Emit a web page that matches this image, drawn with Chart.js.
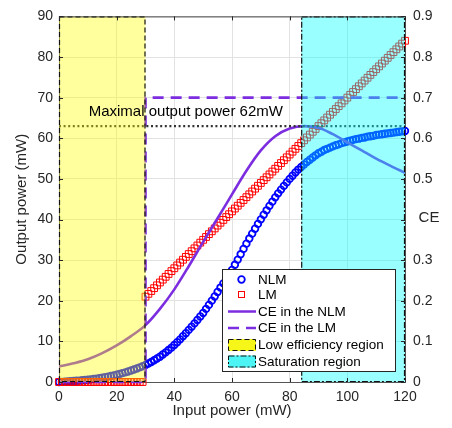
<!DOCTYPE html>
<html>
<head>
<meta charset="utf-8">
<script src="https://cdn.jsdelivr.net/npm/chart.js@4.4.0/dist/chart.umd.min.js"></script>
<style>
  html, body { margin: 0; padding: 0; background: #fff; }
</style>
</head>
<body>
<canvas id="c" width="452" height="428"></canvas>
<script>
// input power grid, 1 mW step
const inputPower = Array.from({ length: 121 }, (_, i) => i);

// output power of the non-linear model (mW)
const nlmPower = [
  0.00, 0.04, 0.09, 0.13, 0.18, 0.24, 0.29, 0.35, 0.42, 0.49,
  0.56, 0.65, 0.74, 0.84, 0.95, 1.07, 1.18, 1.33, 1.48, 1.63,
  1.80, 1.97, 2.18, 2.37, 2.59, 2.83, 3.07, 3.32, 3.61, 3.89,
  4.20, 4.56, 4.93, 5.35, 5.78, 6.23, 6.77, 7.29, 7.87, 8.46,
  9.12, 9.80, 10.50, 11.27, 12.01, 12.83, 13.62, 14.43, 15.26, 16.12,
  17.00, 18.00, 18.98, 20.03, 21.06, 22.17, 23.24, 24.28, 25.40, 26.49,
  27.60, 28.85, 30.13, 31.44, 32.77, 34.06, 35.31, 36.52, 37.74, 38.92,
  40.04, 41.18, 42.26, 43.36, 44.40, 45.45, 46.44, 47.36, 48.28, 49.14,
  50.00, 50.79, 51.58, 52.29, 52.92, 53.55, 54.18, 54.72, 55.26, 55.80,
  56.30, 56.70, 57.10, 57.40, 57.70, 58.00, 58.30, 58.50, 58.80, 59.00,
  59.20, 59.40, 59.60, 59.80, 59.90, 60.10, 60.20, 60.40, 60.50, 60.60,
  60.80, 60.90, 61.00, 61.10, 61.20, 61.30, 61.40, 61.50, 61.60, 61.70,
  61.80
];

// output power of the linear model (mW)
const lmPower = [
  0, 0, 0, 0, 0, 0, 0, 0, 0, 0,
  0, 0, 0, 0, 0, 0, 0, 0, 0, 0,
  0, 0, 0, 0, 0, 0, 0, 0, 0, 0,
  21.0, 21.7, 22.4, 23.1, 23.8, 24.5, 25.2, 25.9, 26.6, 27.3,
  28.0, 28.7, 29.4, 30.1, 30.8, 31.5, 32.2, 32.9, 33.6, 34.3,
  35.0, 35.7, 36.4, 37.1, 37.8, 38.5, 39.2, 39.9, 40.6, 41.3,
  42.0, 42.7, 43.4, 44.1, 44.8, 45.5, 46.2, 46.9, 47.6, 48.3,
  49.0, 49.7, 50.4, 51.1, 51.8, 52.5, 53.2, 53.9, 54.6, 55.3,
  56.0, 56.7, 57.4, 58.1, 58.8, 59.5, 60.2, 60.9, 61.6, 62.3,
  63.0, 63.7, 64.4, 65.1, 65.8, 66.5, 67.2, 67.9, 68.6, 69.3,
  70.0, 70.7, 71.4, 72.1, 72.8, 73.5, 74.2, 74.9, 75.6, 76.3,
  77.0, 77.7, 78.4, 79.1, 79.8, 80.5, 81.2, 81.9, 82.6, 83.3,
  84.0
];

// conversion efficiency curves (right axis)
const ceNlmX = [0, 5, 10, 15, 20, 25, 30, 35, 40, 45, 50, 55, 60, 65, 70, 75, 80, 85, 90, 95, 100, 105, 110, 115, 120];
const ceNlm = [0.038, 0.046, 0.056, 0.071, 0.090, 0.113, 0.140, 0.180, 0.228, 0.285, 0.345, 0.403, 0.462, 0.520, 0.570, 0.605, 0.624, 0.630, 0.626, 0.610, 0.590, 0.570, 0.550, 0.532, 0.515];
const ceLmX = [0, 30, 30, 120];
const ceLm = [0, 0, 0.7, 0.7];

// maximal output power marker line
const maxLineX = [0, 120];
const maxLineY = [63, 63];
const maxLabel = 'Maximal output power 62mW';

// shaded regions (input power, mW)
const lowEffRegion = [0, 30];
const satRegion = [84, 120];

const xTicks = [0, 20, 40, 60, 80, 100, 120];
const leftTicks = [0, 10, 20, 30, 40, 50, 60, 70, 80, 90];
const rightTicks = [0, 0.1, 0.2, 0.3, 0.4, 0.5, 0.6, 0.7, 0.8, 0.9];

const legendItems = ['NLM', 'LM', 'CE in the NLM', 'CE in the LM', 'Low efficiency region', 'Saturation region'];

const FONT = "'Liberation Sans', Arial, sans-serif";
const PURPLE = '#7d2de0';
const YELLOW = 'rgba(255,255,0,0.38)';
const CYAN = 'rgba(0,255,255,0.4)';

const pts = (xs, ys) => ys.map((y, i) => ({ x: xs[i], y: y }));

const regionsPlugin = {
  id: 'regions',
  afterDatasetsDraw(chart) {
    const { ctx, scales: { x, y } } = chart;
    const top = y.getPixelForValue(90), bot = y.getPixelForValue(0);
    function region(r, fill, dash) {
      const x0 = x.getPixelForValue(r[0]), x1 = x.getPixelForValue(r[1]);
      ctx.save();
      ctx.fillStyle = fill;
      ctx.fillRect(x0, top, x1 - x0, bot - top);
      ctx.setLineDash(dash);
      ctx.strokeStyle = '#111';
      ctx.lineWidth = 1.2;
      ctx.strokeRect(x0 + 0.5, top + 0.5, x1 - x0 - 1, bot - top - 1);
      ctx.restore();
    }
    region(lowEffRegion, YELLOW, [5, 3]);
    region(satRegion, CYAN, [6, 2, 2, 2]);
  },
  afterDraw(chart) {
    const { ctx, chartArea: a, scales: { x, y, y2 } } = chart;
    ctx.save();
    // box
    ctx.strokeStyle = '#444';
    ctx.lineWidth = 1;
    ctx.beginPath();
    ctx.moveTo(a.left, a.top + 0.5); ctx.lineTo(a.right, a.top + 0.5);
    ctx.stroke();
    // inward ticks
    ctx.strokeStyle = '#262626';
    ctx.beginPath();
    xTicks.forEach(v => {
      const px = Math.round(x.getPixelForValue(v)) + 0.5;
      ctx.moveTo(px, a.bottom); ctx.lineTo(px, a.bottom - 4);
      ctx.moveTo(px, a.top); ctx.lineTo(px, a.top + 4);
    });
    leftTicks.forEach(v => {
      const py = Math.round(y.getPixelForValue(v)) + 0.5;
      ctx.moveTo(a.left, py); ctx.lineTo(a.left + 4, py);
    });
    rightTicks.forEach(v => {
      const py = Math.round(y2.getPixelForValue(v)) + 0.5;
      ctx.moveTo(a.right, py); ctx.lineTo(a.right - 4, py);
    });
    ctx.stroke();

    // annotation text
    ctx.fillStyle = '#000';
    ctx.font = '15px ' + FONT;
    ctx.textBaseline = 'middle';
    ctx.textAlign = 'left';
    ctx.fillText(maxLabel, x.getPixelForValue(10.3), y.getPixelForValue(66.5));

    // right axis title (sits where the 0.4 label would be)
    ctx.fillStyle = '#262626';
    ctx.font = '15px ' + FONT;
    ctx.textAlign = 'center';
    ctx.fillText('CE', 429, y2.getPixelForValue(0.405));

    // legend
    const lx = 222, ly = 269, lw = 173, lh = 102;
    ctx.fillStyle = '#fff';
    ctx.fillRect(lx, ly, lw, lh);
    ctx.strokeStyle = '#262626';
    ctx.lineWidth = 1;
    ctx.setLineDash([]);
    ctx.strokeRect(lx + 0.5, ly + 0.5, lw, lh);
    const rows = [279.5, 294.5, 311.5, 328, 345, 361.5];
    const sx0 = 228, sx1 = 256, sxc = 241.5;
    ctx.font = '13.5px ' + FONT;
    ctx.textAlign = 'left';
    legendItems.forEach((label, i) => {
      const ry = rows[i];
      ctx.save();
      if (i === 0) {
        ctx.strokeStyle = '#0000ff'; ctx.lineWidth = 1.8;
        ctx.beginPath(); ctx.arc(sxc, ry, 3.3, 0, Math.PI * 2); ctx.stroke();
      } else if (i === 1) {
        ctx.strokeStyle = '#ff0000'; ctx.lineWidth = 1;
        ctx.strokeRect(sxc - 3, ry - 3, 6, 6);
      } else if (i === 2 || i === 3) {
        ctx.strokeStyle = PURPLE; ctx.lineWidth = 2.5;
        if (i === 3) ctx.setLineDash([11, 7]);
        ctx.beginPath(); ctx.moveTo(sx0, ry); ctx.lineTo(sx1, ry); ctx.stroke();
      } else {
        ctx.fillStyle = i === 4 ? 'rgba(245,245,0,0.9)' : 'rgba(0,240,240,0.7)';
        ctx.fillRect(sx0, ry - 6, sx1 - sx0, 12);
        ctx.strokeStyle = '#111'; ctx.lineWidth = 1;
        ctx.setLineDash(i === 4 ? [5, 3] : [6, 2, 2, 2]);
        ctx.strokeRect(sx0 + 0.5, ry - 5.5, sx1 - sx0 - 1, 11);
      }
      ctx.restore();
      ctx.fillStyle = '#000';
      ctx.fillText(label, 258, ry + 0.5);
    });
    ctx.restore();
  }
};

new Chart(document.getElementById('c'), {
  type: 'line',
  data: {
    datasets: [
      {
        label: 'NLM',
        data: pts(inputPower, nlmPower),
        showLine: false,
        pointStyle: 'circle',
        pointRadius: 3.3,
        pointBorderWidth: 1.8,
        pointBorderColor: '#0000ff',
        pointBackgroundColor: 'rgba(0,0,0,0)',
        yAxisID: 'y',
        order: 4,
        clip: 8
      },
      {
        label: 'LM',
        data: pts(inputPower, lmPower),
        showLine: false,
        pointStyle: 'rect',
        pointRadius: 4.8,
        pointBorderWidth: 1,
        pointBorderColor: '#ff0000',
        pointBackgroundColor: 'rgba(0,0,0,0)',
        yAxisID: 'y',
        order: 3,
        clip: 8
      },
      {
        label: 'CE in the NLM',
        data: pts(ceNlmX, ceNlm),
        borderColor: PURPLE,
        borderWidth: 2.6,
        pointRadius: 0,
        cubicInterpolationMode: 'monotone',
        yAxisID: 'y2',
        order: 2
      },
      {
        label: 'CE in the LM',
        data: pts(ceLmX, ceLm),
        borderColor: PURPLE,
        borderWidth: 2.6,
        borderDash: [11, 7],
        pointRadius: 0,
        tension: 0,
        yAxisID: 'y2',
        order: 1,
        clip: 4
      },
      {
        label: 'max',
        data: pts(maxLineX, maxLineY),
        borderColor: '#333',
        borderWidth: 2.4,
        borderDash: [2, 2.6],
        pointRadius: 0,
        yAxisID: 'y',
        order: 0
      }
    ]
  },
  options: {
    responsive: false,
    animation: false,
    devicePixelRatio: 1,
    layout: { padding: { top: 12, left: 0, right: 0, bottom: 0 } },
    plugins: { legend: { display: false }, tooltip: { enabled: false } },
    scales: {
      x: {
        type: 'linear', min: 0, max: 120,
        afterBuildTicks: s => { s.ticks = xTicks.map(v => ({ value: v })); },
        afterFit: s => { s.height = 46; },
        grid: { color: '#e2e2e2', drawTicks: false },
        border: { display: true, color: '#555' },
        ticks: { color: '#262626', font: { family: FONT, size: 14 }, padding: 7, maxRotation: 0 },
        title: { display: true, text: 'Input power (mW)', color: '#262626', font: { family: FONT, size: 15 }, padding: { top: 0, bottom: 8 } }
      },
      y: {
        type: 'linear', position: 'left', min: 0, max: 90,
        afterBuildTicks: s => { s.ticks = leftTicks.map(v => ({ value: v })); },
        afterFit: s => { s.width = 59; },
        grid: { color: '#e2e2e2', drawTicks: false },
        border: { display: true, color: '#555' },
        ticks: { color: '#262626', font: { family: FONT, size: 14 }, padding: 6 },
        title: { display: true, text: 'Output power (mW)', color: '#262626', font: { family: FONT, size: 15 }, padding: { top: 13, bottom: 0 } }
      },
      y2: {
        type: 'linear', position: 'right', min: 0, max: 0.9,
        afterBuildTicks: s => { s.ticks = rightTicks.map(v => ({ value: v })); },
        afterFit: s => { s.width = 47; },
        grid: { display: false, drawTicks: false },
        border: { display: true, color: '#555' },
        ticks: {
          color: '#262626', font: { family: FONT, size: 14 }, padding: 8,
          // the CE title covers the 0.4 label in the reference
          callback: v => (v === 0 ? '0' : (Math.abs(v - 0.4) < 1e-9 ? '' : v.toFixed(1)))
        }
      }
    }
  },
  plugins: [regionsPlugin]
});
</script>
</body>
</html>
